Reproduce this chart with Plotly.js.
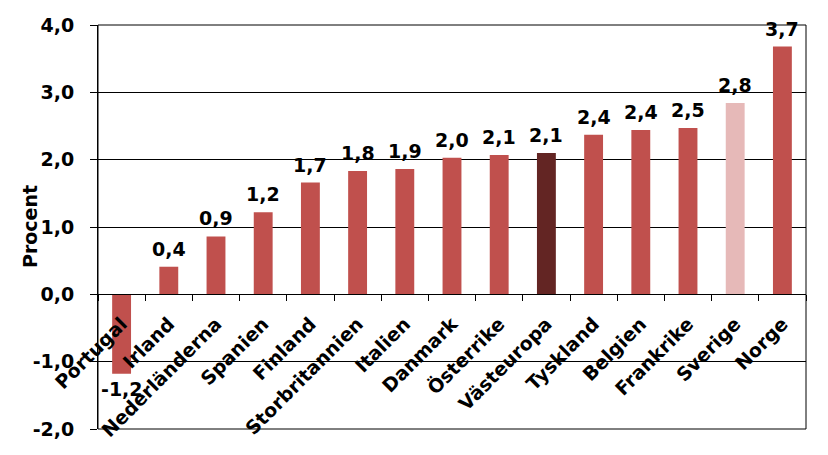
<!DOCTYPE html>
<html>
<head>
<meta charset="utf-8">
<script src="https://cdn.plot.ly/plotly-3.0.1.min.js"></script>
<style>html,body{margin:0;padding:0;background:#fff}#chart{width:828px;height:455px}</style>
</head>
<body>
<div id="chart"></div>
<script>
const categories = ["Portugal","Irland","Nederländerna","Spanien","Finland","Storbritannien","Italien","Danmark","Österrike","Västeuropa","Tyskland","Belgien","Frankrike","Sverige","Norge"];
const values = [-1.18, 0.41, 0.86, 1.22, 1.66, 1.83, 1.86, 2.03, 2.07, 2.10, 2.37, 2.44, 2.47, 2.84, 3.68];
const labels = ["-1,2","0,4","0,9","1,2","1,7","1,8","1,9","2,0","2,1","2,1","2,4","2,4","2,5","2,8","3,7"];
const tickVals = [-2,-1,0,1,2,3,4];
const tickText = ["-2,0","-1,0","0,0","1,0","2,0","3,0","4,0"];
const yTitle = "Procent";

const normal = "#C0504D", dark = "#632523", light = "#E6B9B8";
const colors = categories.map(c => c === "Västeuropa" ? dark : (c === "Sverige" ? light : normal));
const FONT = "DejaVu Sans";
const FS = 19;
const bold = {family: FONT, size: FS, color: "#000", weight: "bold"};

const trace = {
  type: "bar",
  x: categories,
  y: values,
  marker: {color: colors},
  hoverinfo: "none"
};

const annotations = categories.map((c, i) => ({
  x: c, y: values[i], xref: "x", yref: "y",
  text: labels[i], showarrow: false,
  yanchor: values[i] >= 0 ? "bottom" : "top",
  yshift: values[i] >= 0 ? 5 : -2,
  font: bold
}));
annotations.push({
  xref: "paper", yref: "paper", x: -0.096, y: 0.5,
  xanchor: "center", yanchor: "middle", textangle: -90,
  text: yTitle, showarrow: false, font: bold
});

const layout = {
  width: 828, height: 455,
  margin: {l: 98, r: 22, t: 25, b: 26},
  paper_bgcolor: "#fff", plot_bgcolor: "#fff",
  showlegend: false,
  bargap: 0.6,
  font: bold,
  xaxis: {
    type: "category",
    range: [-0.5, 14.5],
    anchor: "free", position: (0 - (-2)) / 6,
    showline: true, linecolor: "#000", linewidth: 1,
    ticks: "outside", ticklen: 6, tickcolor: "#000", tickson: "boundaries",
    tickangle: -45,
    ticklabelstandoff: 10,
    tickfont: bold,
    showgrid: false, zeroline: false,
    automargin: false
  },
  yaxis: {
    range: [-2, 4],
    tickvals: tickVals, ticktext: tickText,
    showline: true, linecolor: "#000", linewidth: 1,
    ticks: "outside", ticklen: 7, tickcolor: "#000",
    ticklabelstandoff: 12,
    showgrid: true, gridcolor: "#000", gridwidth: 1,
    zeroline: true, zerolinecolor: "#000", zerolinewidth: 1,
    tickfont: bold,
    automargin: false
  },
  shapes: [{type: "rect", xref: "paper", yref: "paper", x0: 0, x1: 1, y0: 0, y1: 1, line: {color: "#000", width: 1}, layer: "above"}],
  annotations: annotations
};

Plotly.newPlot("chart", [trace], layout, {displayModeBar: false, staticPlot: true});
</script>
</body>
</html>
